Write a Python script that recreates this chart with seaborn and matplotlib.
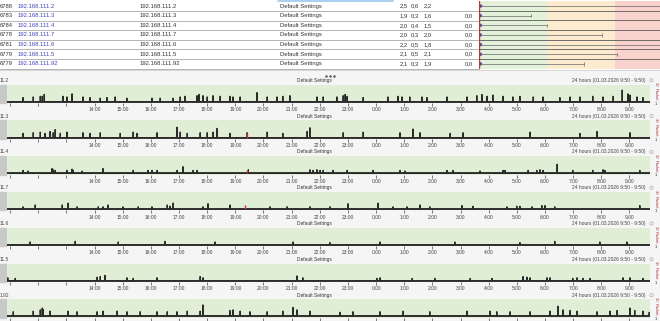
import matplotlib
matplotlib.use("Agg")
import matplotlib.pyplot as plt
from matplotlib.patches import Rectangle, Circle
import pandas as pd
import seaborn as sns

W, H = 660, 321

# ---------------- top table ----------------
row_ids = [6788, 6783, 6784, 6778, 6781, 6779, 6779]
hosts = ["192.168.111.2", "192.168.111.3", "192.168.111.4", "192.168.111.7",
         "192.168.111.6", "192.168.111.5", "192.168.111.92"]
avg_ms = [2.5, 1.9, 2.0, 2.0, 2.2, 2.1, 2.1]
dev_ms = [0.6, 0.3, 0.4, 0.3, 0.5, 0.5, 0.3]
cur_ms = [2.2, 1.6, 1.5, 2.0, 1.8, 2.1, 1.9]
loss_pct = [None, 0.0, 0.0, 0.0, 0.0, 0.0, 0.0]
max_ms = [300, 76, 100, 181, 300, 203, 154]
zones = [(0, 100, "#e3f1da"), (100, 200, "#fdebd0"), (200, 300, "#f9d2ce")]

# ---------------- timeline panels (hour of day, +24 after midnight) ----------------
base_ms = [2.2, 2.0, 2.0, 2.0, 2.0, 2.0, 3.0]

p1_t = [11.46, 11.82, 12.07, 12.14, 12.21, 12.88, 13.02, 13.20, 13.59, 13.84, 14.20, 14.44,
        14.73, 15.15, 16.04, 16.33, 16.79, 17.04, 17.21, 17.64, 17.71, 17.85, 18.00, 18.21,
        18.46, 18.81, 18.92, 19.17, 19.77, 20.13, 20.48, 20.69, 20.94, 21.90, 22.12, 22.61,
        22.83, 22.90, 22.97, 23.54, 24.42, 24.78, 24.92, 25.20, 25.63, 25.81, 26.52, 27.23,
        27.58, 27.76, 27.94, 28.15, 28.51, 28.86, 29.11, 29.58, 29.93, 30.53, 30.89, 31.24,
        31.70, 32.06, 32.42, 32.74, 32.95, 33.02, 33.27, 33.48]
p1_ms = [9, 10, 11, 11, 14, 11, 10, 15, 10, 9, 8, 9, 10, 8, 8, 8, 8, 10, 11, 12, 14, 12, 10, 12,
         11, 11, 10, 10, 17, 10, 10, 11, 12, 10, 10, 10, 12, 14, 11, 9, 10, 11, 10, 10, 10, 9, 10, 10,
         12, 14, 11, 13, 11, 10, 11, 10, 10, 9, 10, 10, 11, 10, 11, 21, 15, 13, 10, 9]

p2_t = [11.46, 11.82, 12.07, 12.24, 12.42, 12.53, 12.60, 12.78, 13.02, 13.59, 13.84, 14.20,
        14.91, 15.37, 15.51, 16.22, 16.93, 17.04, 17.29, 17.75, 18.00, 18.21, 18.35, 18.81,
        19.42, 20.13, 20.69, 21.55, 21.65, 22.83, 23.54, 24.85, 25.31, 25.56, 26.63, 27.09,
        29.47, 31.24, 31.85, 33.02]
p2_ms = [9, 10, 11, 9, 12, 10, 15, 9, 11, 10, 9, 10, 9, 11, 9, 10, 19, 11, 9, 10,
         10, 11, 17, 9, 10, 11, 9, 12, 18, 10, 11, 10, 16, 10, 9, 10, 11, 9, 12, 10]

p3_t = [11.46, 11.64, 12.49, 12.53, 12.60, 13.02, 13.20, 13.24, 13.56, 14.30, 15.37, 15.90,
        16.04, 16.22, 16.93, 17.14, 17.50, 17.64, 19.46, 21.65, 21.76, 21.90, 22.01, 22.12,
        22.47, 22.97, 23.89, 24.85, 25.03, 26.52, 26.73, 27.69, 28.51, 28.58, 29.40, 29.71,
        29.82, 29.93, 30.43, 30.99, 31.70, 32.06, 32.13, 33.37]
p3_ms = [7, 6, 10, 8, 7, 7, 9, 7, 6, 10, 7, 7, 7, 7, 7, 13, 7, 7, 8, 8, 7, 8, 7, 7,
         7, 7, 7, 7, 6, 7, 7, 6, 7, 7, 7, 7, 8, 7, 17, 7, 7, 8, 7, 7]

p4_t = [11.46, 11.89, 12.85, 13.06, 13.38, 14.13, 14.30, 14.48, 15.01, 15.55, 16.04, 16.58,
        16.68, 16.79, 17.85, 18.03, 18.81, 20.23, 20.84, 21.65, 22.36, 23.00, 24.07, 24.60,
        25.10, 25.56, 25.91, 27.05, 27.44, 28.65, 29.00, 29.11, 29.54, 29.89, 30.00, 30.35,
        33.37]
p4_ms = [6, 9, 9, 12, 6, 6, 6, 9, 6, 6, 6, 9, 7, 12, 6, 11, 9, 6, 6, 6, 6, 11, 12, 6,
         6, 9, 6, 8, 7, 6, 7, 7, 6, 8, 8, 6, 8]

p5_t = [11.71, 13.31, 14.84, 16.50, 18.28, 21.05, 22.36, 24.14, 26.80, 29.11, 30.35, 31.95, 32.91]
p5_ms = [7, 8, 7, 8, 7, 7, 6, 7, 7, 6, 8, 7, 7]

p6_t = [10.92, 11.18, 14.09, 14.20, 14.37, 15.15, 15.37, 16.22, 17.75, 17.85, 21.19, 21.40,
        24.03, 24.14, 25.28, 26.09, 27.34, 28.12, 29.22, 29.36, 29.47, 30.07, 30.18, 30.99,
        31.14, 31.35, 31.60, 32.77, 33.02, 33.48]
p6_ms = [7, 6, 8, 9, 11, 7, 6, 7, 9, 7, 10, 7, 6, 7, 6, 6, 6, 6, 9, 8, 7, 7, 7, 6,
         7, 6, 6, 7, 7, 6]

p7_t = [11.11, 11.82, 12.07, 12.14, 12.17, 12.42, 13.06, 13.38, 14.09, 14.30, 14.80, 15.15,
        15.62, 16.22, 16.58, 16.93, 17.29, 17.75, 17.85, 18.81, 18.92, 19.17, 19.52, 20.13,
        20.69, 21.05, 21.19, 21.65, 22.72, 23.18, 24.14, 24.96, 25.91, 27.23, 28.05, 28.29,
        28.76, 29.47, 30.18, 30.46, 30.64, 30.89, 31.14, 31.85, 32.31, 32.56, 33.02, 33.19,
        33.48, 33.70]
p7_ms = [10, 11, 13, 16, 14, 11, 11, 10, 10, 11, 11, 10, 10, 10, 10, 10, 11, 11, 21, 12, 13, 11, 10, 10,
         11, 17, 13, 11, 9, 10, 10, 11, 10, 11, 11, 10, 10, 10, 11, 19, 13, 12, 11, 10, 11, 12, 16, 12,
         11, 9]

spike_t = [p1_t, p2_t, p3_t, p4_t, p5_t, p6_t, p7_t]
spike_ms = [p1_ms, p2_ms, p3_ms, p4_ms, p5_ms, p6_ms, p7_ms]

# packet loss markers (panel index, hour, height)
loss_panel = [1, 2, 3]
loss_t = [19.40, 19.40, 19.35]
loss_h = [9, 8, 9]

hour_ticks = list(range(11, 34))
first_labelled = 14
t_start, t_end = 10.89, 33.73

sns.set_theme(style="white")
plt.rcParams['font.family'] = ['Liberation Sans', 'DejaVu Sans']

fig = plt.figure(figsize=(6.6, 3.21), dpi=100)
fig.patch.set_facecolor("white")


def px_axes(x0, y0, w, h):
    return fig.add_axes([x0 / W, 1 - (y0 + h) / H, w / W, h / H])


canvas = px_axes(0, 0, W, H)
canvas.set_xlim(0, W)
canvas.set_ylim(H, 0)
canvas.axis("off")

# table
row_h = 9.65
row_y0 = 1.2
canvas.add_patch(Rectangle((0, 70), W, H - 70, color="#f5f5f5", zorder=0))
canvas.plot([278, 393], [0.8, 0.8], color="#9cc8ee", lw=1.2)
for i in range(7):
    yc = row_y0 + row_h * (i + 0.5)
    canvas.text(0, yc, str(row_ids[i]), fontsize=4.2, va="center", ha="left", color="#333")
    canvas.text(18, yc, hosts[i], fontsize=4.2, va="center", ha="left", color="#4444bb")
    canvas.text(140, yc, hosts[i], fontsize=4.2, va="center", ha="left", color="#333")
    canvas.text(280, yc, "Default Settings", fontsize=4.2, va="center", ha="left", color="#333")
    for xr, v in zip([408, 419, 432], [avg_ms[i], dev_ms[i], cur_ms[i]]):
        canvas.text(xr, yc, f"{v:.1f}".replace(".", ","), fontsize=4.2, va="center",
                    ha="right", color="#333")
    if loss_pct[i] is not None:
        canvas.text(473, yc, f"{loss_pct[i]:.1f}".replace(".", ","), fontsize=4.2,
                    va="center", ha="right", color="#333")
    ys = row_y0 + row_h * (i + 1)
    canvas.plot([0, 479], [ys, ys], color="#a8a8a8", lw=0.6)
canvas.plot([0, W], [70, 70], color="#d0d0d0", lw=0.6)
canvas.plot([326, 330, 334], [75.5, 75.5, 75.5], ls="none", marker="o", ms=0.9, color="#666")

# mini latency chart
mini = px_axes(479, row_y0, W - 479, row_h * 7)
mini.set_xlim(0, 266)
mini.set_ylim(7, 0)
mini.axis("off")
for a, b, c in zones:
    mini.axvspan(a, b, color=c, lw=0)
rows = [i + 0.5 for i in range(7)]
mini.hlines(rows, avg_ms, max_ms, color="#666", lw=0.5)
mini.vlines(max_ms, [r - 0.18 for r in rows], [r + 0.18 for r in rows], color="#666", lw=0.5)
mini.axvline(0.6, color="#b83a3a", lw=1.0)
sns.scatterplot(x=avg_ms, y=rows, ax=mini, color="#6b3fa0", s=6, edgecolor="none", legend=False)
for i in range(1, 8):
    mini.axhline(i, color="#5a5a5a", lw=0.6)

# panels
pitch = 35.8
for i in range(7):
    top = 84.5 + pitch * i
    gh = 18.5
    canvas.add_patch(Rectangle((0, top), 6, gh, color="#c8c8c8", zorder=1))
    canvas.text(0, top - 4.2, hosts[i][-4:], fontsize=3.5, ha="left", va="center", color="#444")
    canvas.text(314, top - 4.2, "Default Settings", fontsize=3.5, ha="center", va="center", color="#333")
    canvas.text(646, top - 4.2, "24 hours (01.03.2026 9:50 - 9:50)", fontsize=3.5,
                ha="right", va="center", color="#444")
    canvas.add_patch(Circle((651.5, top - 4.2), 1.6, fill=False, ec="#999", lw=0.4))
    canvas.text(656, top + 0.2, "30", fontsize=3.0, rotation=270, ha="center", va="center", color="#b03030")
    canvas.text(656, top + 10.0, "Packet", fontsize=3.0, rotation=270, ha="center", va="center", color="#b03030")
    canvas.text(656, top + gh + 0.8, "1", fontsize=3.0, ha="center", va="center", color="#333")

    ax = px_axes(7, top, 643, gh)
    ax.set_facecolor("#dfeed4")
    ax.set_xlim(t_start, t_end)
    ax.set_ylim(0, 30)
    for s in ax.spines.values():
        s.set_visible(False)
    ax.set_yticks([])
    ax.set_xticks(hour_ticks)
    ax.set_xticklabels([f"{h % 24}:00" if h >= first_labelled else "" for h in hour_ticks])
    ax.tick_params(axis="x", length=2, width=0.5, pad=1, labelsize=3.5, colors="#444",
                   direction="out", bottom=True)

    b = base_ms[i]
    tt, vv = [t_start], [b]
    for t, v in zip(spike_t[i], spike_ms[i]):
        tt += [t - 0.01, t, t + 0.01]
        vv += [b, v, b]
    tt.append(t_end)
    vv.append(b)
    df = pd.DataFrame({"t": tt, "ms": vv})
    ax.axhline(b, color="#363636", lw=1.4)
    sns.lineplot(data=df, x="t", y="ms", ax=ax, color="#2a2a2a", lw=0.8,
                 estimator=None, sort=False)
    ax.set_xlabel("")
    ax.set_ylabel("")
    for p, t, h in zip(loss_panel, loss_t, loss_h):
        if p == i:
            ax.vlines(t, b, h, color="#d03030", lw=1.0)

fig.savefig("out.png", dpi=100)
